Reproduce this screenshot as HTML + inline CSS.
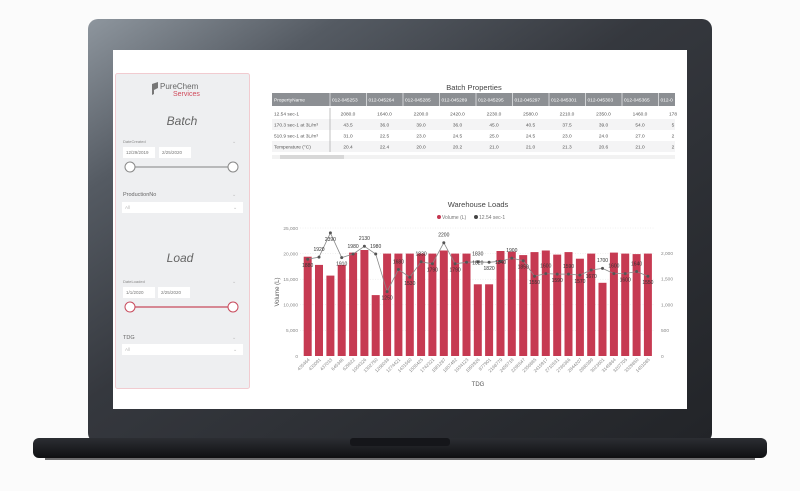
<!DOCTYPE html>
<html><head><meta charset="utf-8"><style>
body{margin:0;width:800px;height:491px;background:#fbfbfb;overflow:hidden;font-family:"Liberation Sans",sans-serif;}
svg{display:block}
</style></head><body>
<svg width="800" height="491" viewBox="0 0 800 491" font-family="Liberation Sans, sans-serif">
<defs>
<linearGradient id="bz" x1="0" y1="0" x2="1" y2="1">
<stop offset="0" stop-color="#8e969e"/><stop offset="0.2" stop-color="#555b63"/><stop offset="0.45" stop-color="#35383e"/><stop offset="1" stop-color="#222428"/>
</linearGradient>
<linearGradient id="bs" x1="0" y1="0" x2="0" y2="1">
<stop offset="0" stop-color="#2c2e33"/><stop offset="1" stop-color="#0f1012"/>
</linearGradient>
</defs>
<rect x="88" y="19" width="624" height="424" rx="10" fill="url(#bz)"/>
<rect x="33" y="438" width="734" height="20" rx="6" fill="url(#bs)"/>
<rect x="45" y="456" width="710" height="4" fill="#101113" opacity="0.6"/>
<rect x="350" y="438" width="100" height="8" rx="3" fill="#15161a"/>
<rect x="113" y="50" width="574" height="359" fill="#fff"/>

<rect x="115.5" y="73.5" width="134" height="315" rx="2" fill="#eeeff1" stroke="#f1cbd0"/>
<path d="M152 84 l6 -2 v6 l-4 2 v4 l-2 1z" fill="#777"/>
<text x="160" y="89" font-size="8" fill="#666">PureChem</text>
<text x="173" y="96" font-size="7" fill="#d0495a">Services</text>
<text x="182" y="125" font-size="12" font-style="italic" fill="#666" text-anchor="middle">Batch</text>
<text x="123" y="143" font-size="4" fill="#888">DateCreated</text>
<text x="232" y="143" font-size="5" fill="#bbb">⌄</text>
<rect x="123" y="147" width="32" height="11" fill="#fff"/><text x="126" y="154" font-size="4.5" fill="#777">12/29/2019</text>
<rect x="159" y="147" width="32" height="11" fill="#fff"/><text x="162" y="154" font-size="4.5" fill="#777">2/25/2020</text>
<line x1="130" y1="167" x2="233" y2="167" stroke="#999" stroke-width="1.2"/>
<circle cx="130" cy="167" r="5" fill="#fff" stroke="#888"/><circle cx="233" cy="167" r="5" fill="#fff" stroke="#888"/>
<text x="123" y="196" font-size="5.5" fill="#666">ProductionNo</text><text x="232" y="196" font-size="5" fill="#bbb">⌄</text>
<rect x="122" y="202" width="121" height="11" fill="#fff"/><text x="125" y="209" font-size="4.5" fill="#bbb">All</text><text x="233" y="209" font-size="5" fill="#bbb">⌄</text>
<text x="180" y="262" font-size="12" font-style="italic" fill="#666" text-anchor="middle">Load</text>
<text x="123" y="283" font-size="4" fill="#888">DateLoaded</text><text x="232" y="283" font-size="5" fill="#bbb">⌄</text>
<rect x="123" y="287" width="32" height="11" fill="#fff"/><text x="126" y="294" font-size="4.5" fill="#777">1/1/2020</text>
<rect x="158" y="287" width="32" height="11" fill="#fff"/><text x="161" y="294" font-size="4.5" fill="#777">2/25/2020</text>
<line x1="130" y1="307" x2="233" y2="307" stroke="#c84a5c" stroke-width="1.2"/>
<circle cx="130" cy="307" r="5" fill="#fff" stroke="#c84a5c"/><circle cx="233" cy="307" r="5" fill="#fff" stroke="#c84a5c"/>
<text x="123" y="339" font-size="5.5" fill="#666">TDG</text><text x="232" y="339" font-size="5" fill="#bbb">⌄</text>
<rect x="122" y="344" width="121" height="11" fill="#fff"/><text x="125" y="351" font-size="4.5" fill="#bbb">All</text><text x="233" y="351" font-size="5" fill="#bbb">⌄</text>

<text x="474" y="90" font-size="7.5" fill="#444" text-anchor="middle">Batch Properties</text>
<rect x="272" y="93" width="403" height="13" fill="#8c8f93"/>
<g font-size="4.8" fill="#fff">
<text x="274" y="101.5">PropertyName</text>
<text x="332" y="101.5">012-045253</text><text x="368.5" y="101.5">012-045264</text><text x="405" y="101.5">012-045285</text><text x="441.5" y="101.5">012-045289</text><text x="478" y="101.5">012-045295</text><text x="514.5" y="101.5">012-045297</text><text x="551" y="101.5">012-045301</text><text x="587.5" y="101.5">012-045303</text><text x="624" y="101.5">012-045365</text><text x="660.5" y="101.5">012-0</text>
</g>
<g stroke="#fff" stroke-width="0.6"><line x1="330" y1="93" x2="330" y2="106"/><line x1="366.5" y1="93" x2="366.5" y2="106"/><line x1="403" y1="93" x2="403" y2="106"/><line x1="439.5" y1="93" x2="439.5" y2="106"/><line x1="476" y1="93" x2="476" y2="106"/><line x1="512.5" y1="93" x2="512.5" y2="106"/><line x1="549" y1="93" x2="549" y2="106"/><line x1="585.5" y1="93" x2="585.5" y2="106"/><line x1="622" y1="93" x2="622" y2="106"/><line x1="658.5" y1="93" x2="658.5" y2="106"/></g>
<rect x="272" y="119" width="403" height="11" fill="#f4f4f5"/><rect x="272" y="141" width="403" height="11" fill="#f4f4f5"/>
<line x1="330" y1="108" x2="330" y2="152" stroke="#999" stroke-width="0.6"/>
<g font-size="4.8" fill="#555">
<text x="274" y="115.5">12.54 sec-1</text><text x="274" y="126.5">170.3 sec-1 at 3L/m³</text><text x="274" y="137.5">510.9 sec-1 at 3L/m³</text><text x="274" y="148.5">Temperature (°C)</text>
</g>
<g font-size="4.8" fill="#555" text-anchor="middle">
<text x="348" y="115.5">2080.0</text><text x="384.5" y="115.5">1640.0</text><text x="421" y="115.5">2200.0</text><text x="457.5" y="115.5">2420.0</text><text x="494" y="115.5">2230.0</text><text x="530.5" y="115.5">2580.0</text><text x="567" y="115.5">2210.0</text><text x="603.5" y="115.5">2350.0</text><text x="640" y="115.5">1460.0</text><text x="673" y="115.5">178</text>
<text x="348" y="126.5">43.5</text><text x="384.5" y="126.5">36.0</text><text x="421" y="126.5">39.0</text><text x="457.5" y="126.5">36.0</text><text x="494" y="126.5">45.0</text><text x="530.5" y="126.5">40.5</text><text x="567" y="126.5">37.5</text><text x="603.5" y="126.5">39.0</text><text x="640" y="126.5">54.0</text><text x="673" y="126.5">5</text>
<text x="348" y="137.5">31.0</text><text x="384.5" y="137.5">22.5</text><text x="421" y="137.5">23.0</text><text x="457.5" y="137.5">24.5</text><text x="494" y="137.5">25.0</text><text x="530.5" y="137.5">24.5</text><text x="567" y="137.5">23.0</text><text x="603.5" y="137.5">24.0</text><text x="640" y="137.5">27.0</text><text x="673" y="137.5">2</text>
<text x="348" y="148.5">20.4</text><text x="384.5" y="148.5">22.4</text><text x="421" y="148.5">20.0</text><text x="457.5" y="148.5">20.2</text><text x="494" y="148.5">21.0</text><text x="530.5" y="148.5">21.0</text><text x="567" y="148.5">21.3</text><text x="603.5" y="148.5">20.6</text><text x="640" y="148.5">21.0</text><text x="673" y="148.5">2</text>
</g>
<rect x="272" y="155" width="403" height="4" fill="#f2f2f2"/><rect x="280" y="155" width="64" height="4" fill="#d8d8d8"/>

<text x="478" y="207" font-size="7.5" fill="#444" text-anchor="middle">Warehouse Loads</text>
<circle cx="439" cy="217" r="2" fill="#c43650"/><text x="442" y="219" font-size="5" fill="#777">Volume (L)</text>
<circle cx="476" cy="217" r="2" fill="#444"/><text x="479" y="219" font-size="5" fill="#777">12.54 sec-1</text>
<g stroke="#e2e2e2" stroke-dasharray="1,1.5" stroke-width="0.5">
<line x1="300" y1="228" x2="655" y2="228"/><line x1="300" y1="253.6" x2="655" y2="253.6"/><line x1="300" y1="279.2" x2="655" y2="279.2"/><line x1="300" y1="304.8" x2="655" y2="304.8"/><line x1="300" y1="330.4" x2="655" y2="330.4"/>
</g>
<g font-size="4.8" fill="#888" text-anchor="end">
<text x="298" y="230">25,000</text><text x="298" y="255.5">20,000</text><text x="298" y="281">15,000</text><text x="298" y="306.5">10,000</text><text x="298" y="332">5,000</text><text x="298" y="358">0</text>
</g>
<g font-size="4.8" fill="#888">
<text x="661" y="255">2,000</text><text x="661" y="280.5">1,500</text><text x="661" y="306.5">1,000</text><text x="661" y="332">500</text><text x="661" y="358">0</text>
</g>
<text x="279" y="292" font-size="6" fill="#555" text-anchor="middle" transform="rotate(-90 279 292)">Volume (L)</text>
<g fill="#c63a52">
<rect x="303.7" y="256.7" width="8" height="99.3"/><rect x="315" y="264.9" width="8" height="91.1"/><rect x="326.4" y="275.6" width="8" height="80.4"/><rect x="337.7" y="264.9" width="8" height="91.1"/><rect x="349.1" y="252.6" width="8" height="103.4"/><rect x="360.4" y="250" width="8" height="106"/><rect x="371.7" y="295.1" width="8" height="60.9"/><rect x="383.1" y="253.6" width="8" height="102.4"/><rect x="394.4" y="253.6" width="8" height="102.4"/><rect x="405.8" y="253.6" width="8" height="102.4"/><rect x="417.1" y="253.6" width="8" height="102.4"/><rect x="428.4" y="253.6" width="8" height="102.4"/><rect x="439.8" y="250.5" width="8" height="105.5"/><rect x="451.1" y="253.6" width="8" height="102.4"/><rect x="462.5" y="253.6" width="8" height="102.4"/><rect x="473.8" y="284.3" width="8" height="71.7"/><rect x="485.1" y="284.3" width="8" height="71.7"/><rect x="496.5" y="251" width="8" height="105"/><rect x="507.8" y="251.6" width="8" height="104.4"/><rect x="519.2" y="255.1" width="8" height="100.9"/><rect x="530.5" y="252.1" width="8" height="103.9"/><rect x="541.8" y="250.5" width="8" height="105.5"/><rect x="553.2" y="254.6" width="8" height="101.4"/><rect x="564.5" y="252.1" width="8" height="103.9"/><rect x="575.9" y="258.7" width="8" height="97.3"/><rect x="587.2" y="253.6" width="8" height="102.4"/><rect x="598.5" y="282.8" width="8" height="73.2"/><rect x="609.9" y="252.6" width="8" height="103.4"/><rect x="621.2" y="253.6" width="8" height="102.4"/><rect x="632.6" y="254.1" width="8" height="101.9"/><rect x="643.9" y="253.6" width="8" height="102.4"/>
</g>
<polyline fill="none" stroke="#888" stroke-width="0.8" points="307.7,259.2 319,257.1 330.4,232.9 341.7,257.6 353.1,254 364.4,246.3 375.7,254 387.1,291.6 398.4,269.5 409.8,277.2 421.1,261.8 432.4,263.8 443.8,242.7 455.1,263.8 466.5,262.3 477.8,261.8 489.1,262.3 500.5,261.2 511.8,258.1 523.2,260.7 534.5,276.2 545.8,273.6 557.2,274.1 568.5,274.1 579.9,275.1 591.2,270 602.5,268.4 613.9,273.6 625.2,273.6 636.6,271.5 647.9,276.2"/>
<g fill="#555">
<circle cx="307.7" cy="259.2" r="1.5"/><circle cx="319" cy="257.1" r="1.5"/><circle cx="330.4" cy="232.9" r="1.5"/><circle cx="341.7" cy="257.6" r="1.5"/><circle cx="353.1" cy="254" r="1.5"/><circle cx="364.4" cy="246.3" r="1.5"/><circle cx="375.7" cy="254" r="1.5"/><circle cx="387.1" cy="291.6" r="1.5"/><circle cx="398.4" cy="269.5" r="1.5"/><circle cx="409.8" cy="277.2" r="1.5"/><circle cx="421.1" cy="261.8" r="1.5"/><circle cx="432.4" cy="263.8" r="1.5"/><circle cx="443.8" cy="242.7" r="1.5"/><circle cx="455.1" cy="263.8" r="1.5"/><circle cx="466.5" cy="262.3" r="1.5"/><circle cx="477.8" cy="261.8" r="1.5"/><circle cx="489.1" cy="262.3" r="1.5"/><circle cx="500.5" cy="261.2" r="1.5"/><circle cx="511.8" cy="258.1" r="1.5"/><circle cx="523.2" cy="260.7" r="1.5"/><circle cx="534.5" cy="276.2" r="1.5"/><circle cx="545.8" cy="273.6" r="1.5"/><circle cx="557.2" cy="274.1" r="1.5"/><circle cx="568.5" cy="274.1" r="1.5"/><circle cx="579.9" cy="275.1" r="1.5"/><circle cx="591.2" cy="270" r="1.5"/><circle cx="602.5" cy="268.4" r="1.5"/><circle cx="613.9" cy="273.6" r="1.5"/><circle cx="625.2" cy="273.6" r="1.5"/><circle cx="636.6" cy="271.5" r="1.5"/><circle cx="647.9" cy="276.2" r="1.5"/>
</g>
<g font-size="5" fill="#333" text-anchor="middle">
<text x="307.7" y="267">1880</text><text x="319" y="251">1920</text><text x="330.4" y="241">2390</text><text x="341.7" y="265.5">1910</text><text x="353.1" y="248">1980</text><text x="364.4" y="240">2130</text><text x="375.7" y="248">1980</text><text x="387.1" y="299.5">1250</text><text x="398.4" y="263.5">1680</text><text x="409.8" y="285">1530</text><text x="421.1" y="255.5">1830</text><text x="432.4" y="271.5">1790</text><text x="443.8" y="236.5">2200</text><text x="455.1" y="271.5">1790</text><text x="477.8" y="255.5">1830</text><text x="477.8" y="264.5">1820</text><text x="489.1" y="270">1820</text><text x="500.5" y="264">1840</text><text x="511.8" y="252">1900</text><text x="523.2" y="268.5">1850</text><text x="534.5" y="284">1550</text><text x="545.8" y="267.5">1600</text><text x="557.2" y="282">1590</text><text x="568.5" y="268">1590</text><text x="579.9" y="283">1570</text><text x="591.2" y="278">1670</text><text x="602.5" y="262">1700</text><text x="613.9" y="267.5">1600</text><text x="625.2" y="281.5">1600</text><text x="636.6" y="265.5">1640</text><text x="647.9" y="284">1550</text>
</g>
<g font-size="4.6" fill="#888" text-anchor="end">
<text transform="translate(310,360) rotate(-45)">435464</text><text transform="translate(321.3,360) rotate(-45)">433091</text><text transform="translate(332.7,360) rotate(-45)">437033</text><text transform="translate(344,360) rotate(-45)">645346</text><text transform="translate(355.4,360) rotate(-45)">629622</text><text transform="translate(366.7,360) rotate(-45)">1004326</text><text transform="translate(378,360) rotate(-45)">1302750</text><text transform="translate(389.4,360) rotate(-45)">1268038</text><text transform="translate(400.7,360) rotate(-45)">1274421</text><text transform="translate(412.1,360) rotate(-45)">1431560</text><text transform="translate(423.4,360) rotate(-45)">1555425</text><text transform="translate(434.7,360) rotate(-45)">1742321</text><text transform="translate(446.1,360) rotate(-45)">1881287</text><text transform="translate(457.4,360) rotate(-45)">1857492</text><text transform="translate(468.8,360) rotate(-45)">1934123</text><text transform="translate(480.1,360) rotate(-45)">1993926</text><text transform="translate(491.4,360) rotate(-45)">877901</text><text transform="translate(502.8,360) rotate(-45)">2168779</text><text transform="translate(514.1,360) rotate(-45)">2455718</text><text transform="translate(525.5,360) rotate(-45)">2296547</text><text transform="translate(536.8,360) rotate(-45)">2356885</text><text transform="translate(548.1,360) rotate(-45)">2415917</text><text transform="translate(559.5,360) rotate(-45)">2710531</text><text transform="translate(570.8,360) rotate(-45)">2786366</text><text transform="translate(582.2,360) rotate(-45)">2844207</text><text transform="translate(593.5,360) rotate(-45)">2980399</text><text transform="translate(604.8,360) rotate(-45)">3023601</text><text transform="translate(616.2,360) rotate(-45)">3145864</text><text transform="translate(627.5,360) rotate(-45)">3207705</text><text transform="translate(638.9,360) rotate(-45)">3329850</text><text transform="translate(650.2,360) rotate(-45)">1451085</text>
</g>
<text x="478" y="386" font-size="6" fill="#555" text-anchor="middle">TDG</text>
</svg>
</body></html>
